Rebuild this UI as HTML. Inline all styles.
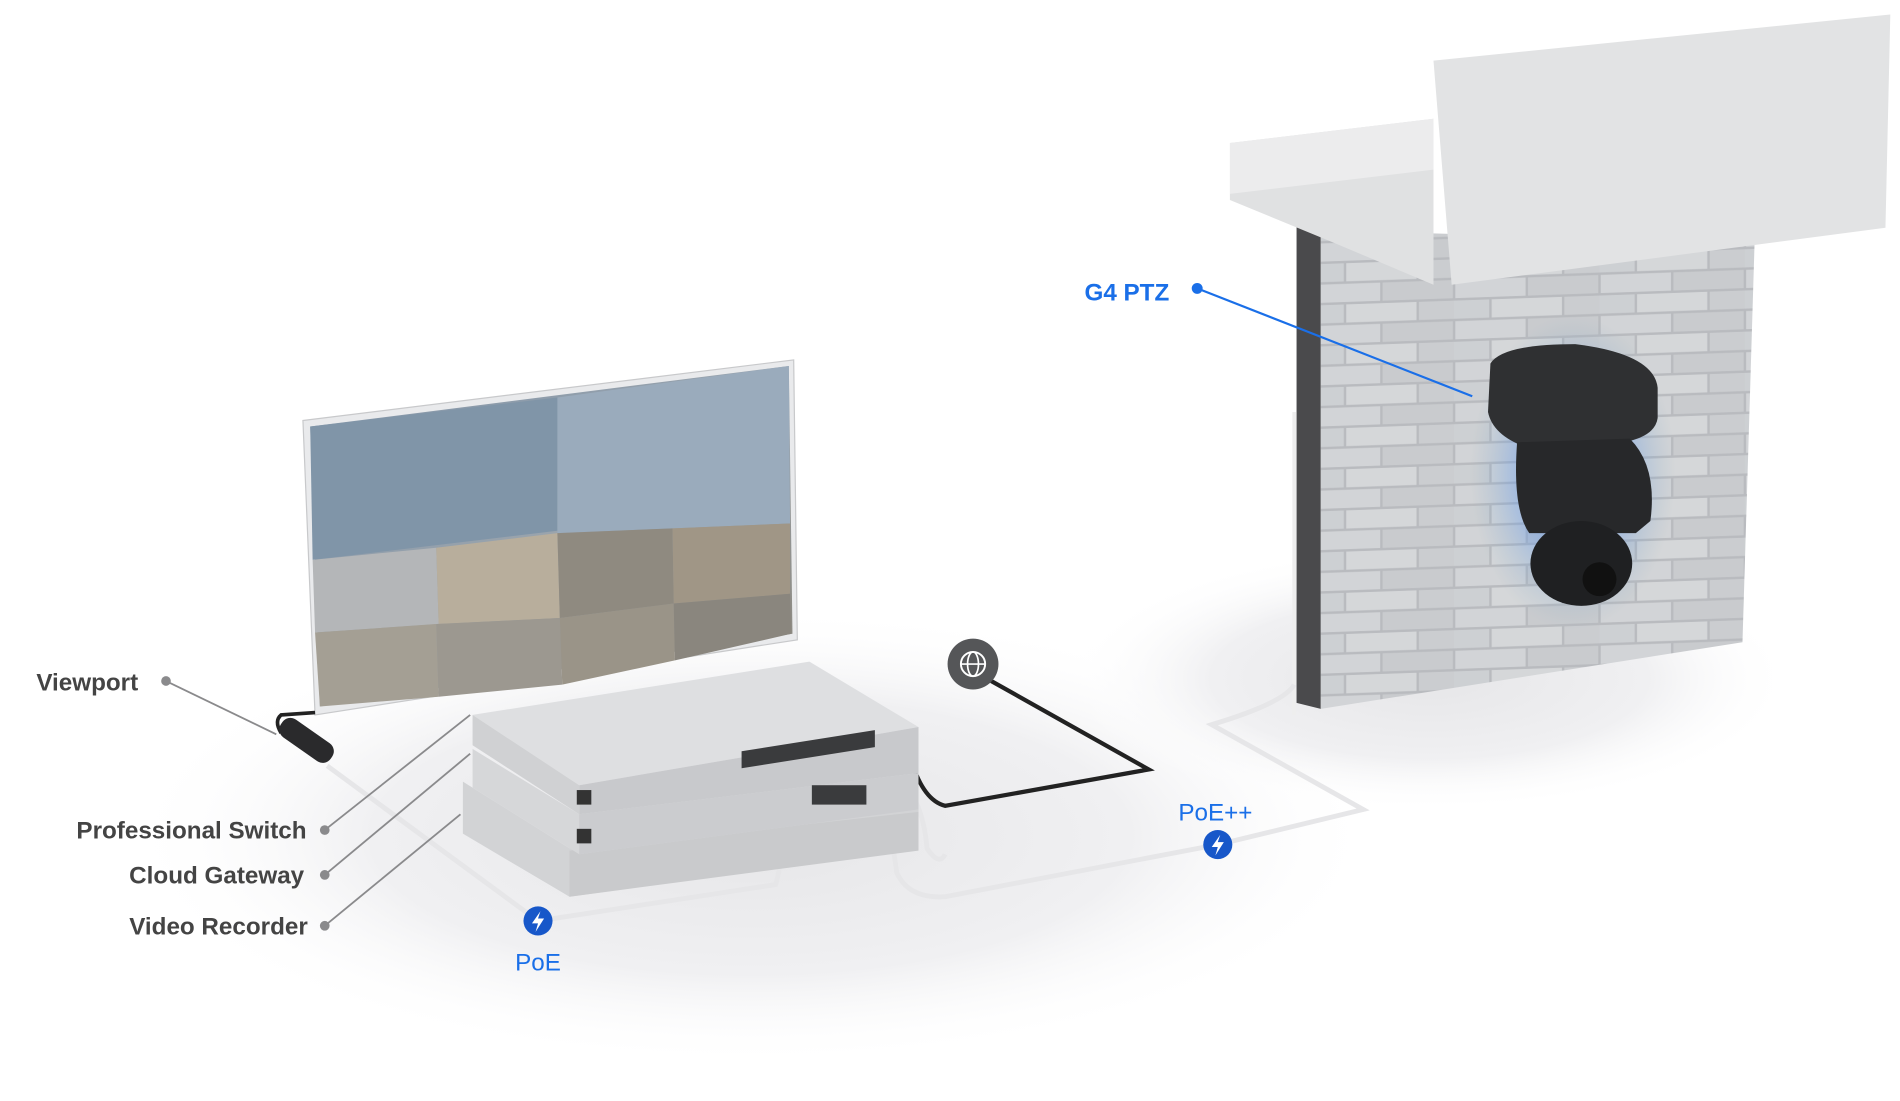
<!DOCTYPE html>
<html><head><meta charset="utf-8"><style>
html,body{margin:0;padding:0;background:#fff;}
svg{display:block;}
text{font-family:"Liberation Sans",sans-serif;}
</style></head><body>
<svg width="1900" height="1101" viewBox="0 0 1568 908.6" preserveAspectRatio="none" xmlns="http://www.w3.org/2000/svg">
<defs>
<radialGradient id="floor" cx="0.5" cy="0.5" r="0.5">
<stop offset="0" stop-color="#e6e6e8"/><stop offset="0.6" stop-color="#f0f0f2"/><stop offset="1" stop-color="#fff" stop-opacity="0"/>
</radialGradient>
<radialGradient id="glow" cx="0.5" cy="0.5" r="0.5">
<stop offset="0" stop-color="#3d7fe8" stop-opacity="0.8"/><stop offset="0.6" stop-color="#5f96e6" stop-opacity="0.35"/><stop offset="1" stop-color="#8ab" stop-opacity="0"/>
</radialGradient>
<linearGradient id="scr" x1="0" y1="0" x2="1" y2="1">
<stop offset="0" stop-color="#7f93a8"/><stop offset="0.5" stop-color="#9aa4ad"/><stop offset="1" stop-color="#8a8478"/>
</linearGradient>
<pattern id="brick" width="120" height="34" patternUnits="userSpaceOnUse" patternTransform="skewY(-2)">
<rect width="120" height="34" fill="#b9bbbf"/>
<rect x="1" y="1" width="58" height="15" fill="#d2d4d7"/><rect x="61" y="1" width="58" height="15" fill="#c9cbce"/>
<rect x="-29" y="18" width="58" height="15" fill="#cdd0d3"/><rect x="31" y="18" width="58" height="15" fill="#d5d7d9"/><rect x="91" y="18" width="58" height="15" fill="#cbcdd0"/>
</pattern>
</defs>
<rect width="1568" height="909" fill="#fff"/>
<ellipse cx="620" cy="690" rx="520" ry="190" fill="url(#floor)"/>
<ellipse cx="1180" cy="560" rx="300" ry="110" fill="url(#floor)"/>

<!-- wall -->
<polygon points="1070,185 1090,192 1090,585 1070,580" fill="#4a4a4c"/>
<polygon points="1090,190 1448,200 1438,530 1090,585" fill="url(#brick)"/>
<polygon points="1015,118 1183,98 1183,235 1100,200 1015,165" fill="#e0e1e2"/>
<polygon points="1015,118 1183,98 1183,140 1015,160" fill="#ececed"/>
<polygon points="1183,50 1560,12 1556,188 1198,235" fill="#e2e3e4"/>
<line x1="1068" y1="340" x2="1068" y2="590" stroke="#eee" stroke-width="3"/>
<ellipse cx="1298" cy="390" rx="85" ry="130" fill="url(#glow)"/>
<!-- camera -->
<path d="M1230,300 Q1240,284 1300,284 Q1365,292 1368,320 L1368,345 Q1366,360 1340,365 L1262,370 Q1232,360 1228,340 Z" fill="#2f3032"/>
<path d="M1252,365 L1345,362 Q1368,385 1362,430 L1350,440 L1262,440 Q1248,420 1252,365 Z" fill="#27282a"/>
<ellipse cx="1305" cy="465" rx="42" ry="35" fill="#1f2022"/>
<circle cx="1320" cy="478" r="14" fill="#111"/>

<!-- monitor -->
<polygon points="250,347 655,297 658,528 260,590" fill="#e9eaec" stroke="#c8c9cb"/>
<polygon points="256,352 651,302 654,523 264,583" fill="url(#scr)"/>
<polygon points="256,352 460,328 460,438 258,462" fill="#8095a8"/>
<polygon points="460,328 651,302 652,432 460,440" fill="#9aabbc"/>
<polygon points="258,462 360,452 362,515 260,522" fill="#b4b6b8"/>
<polygon points="360,452 460,440 462,510 362,515" fill="#b8ae9c"/>
<polygon points="260,522 360,515 362,575 264,583" fill="#a49f94"/>
<polygon points="360,515 462,510 464,565 362,575" fill="#9c9890"/>
<polygon points="460,440 555,436 556,498 462,510" fill="#8f8a80"/>
<polygon points="555,436 652,432 652,490 556,498" fill="#a09686"/>
<polygon points="462,510 556,498 557,545 464,565" fill="#9a9488"/>
<polygon points="556,498 652,490 653,523 557,545" fill="#8a867e"/>
<path d="M260,588 L232,590 Q226,595 232,605" stroke="#222" stroke-width="3" fill="none"/>
<rect x="228" y="602" width="50" height="18" rx="8" fill="#2a2a2c" transform="rotate(35 253 611)"/>

<!-- cables -->
<path d="M270,632 L444,760 L640,730 Q650,700 640,640 L620,632" stroke="#e6e6e8" stroke-width="4" fill="none"/>
<path d="M700,620 Q730,640 740,720 Q750,742 780,740 L1005,697 L1125,668 L1000,598 Q1060,580 1068,565" stroke="#e6e6e8" stroke-width="4" fill="none"/>
<path d="M715,625 Q760,640 765,700 Q775,715 780,705" stroke="#e6e6e8" stroke-width="4" fill="none"/>
<path d="M818,562 L948,635 L780,665 Q760,660 750,620" stroke="#222" stroke-width="3.5" fill="none"/>

<!-- devices -->
<polygon points="382,645 470,700 758,668 758,700 470,740 382,688" fill="#d2d3d5"/>
<polygon points="470,702 758,670 758,702 470,740" fill="#c9cacc"/>
<polygon points="390,618 478,672 758,638 758,668 478,705 390,650" fill="#d6d7d9"/>
<polygon points="478,672 758,638 758,668 478,705" fill="#cbcccf"/>
<polygon points="390,590 668,546 758,600 478,648" fill="#dedfe1"/>
<polygon points="390,590 478,648 478,672 390,615" fill="#d0d1d3"/>
<polygon points="478,648 758,600 758,638 478,672" fill="#c8c9cc"/>
<rect x="612" y="620" width="110" height="14" fill="#3a3b3d" transform="skewY(-9)" transform-origin="612 620"/>
<rect x="670" y="648" width="45" height="16" fill="#3a3b3d"/>
<rect x="476" y="652" width="12" height="12" fill="#333"/>
<rect x="476" y="684" width="12" height="12" fill="#333"/>

<!-- globe -->
<circle cx="803" cy="548" r="21" fill="#555658"/>
<circle cx="803" cy="548" r="10" fill="none" stroke="#fff" stroke-width="1.6"/>
<ellipse cx="803" cy="548" rx="4.5" ry="10" fill="none" stroke="#fff" stroke-width="1.4"/>
<line x1="793" y1="548" x2="813" y2="548" stroke="#fff" stroke-width="1.4"/>

<!-- label lines -->
<g stroke="#8a8a8c" stroke-width="1.5">
<line x1="137" y1="562" x2="228" y2="606"/>
<line x1="268" y1="685" x2="388" y2="590"/>
<line x1="268" y1="722" x2="388" y2="622"/>
<line x1="268" y1="764" x2="380" y2="672"/>
</g>
<g fill="#8a8a8c">
<circle cx="137" cy="562" r="4"/><circle cx="268" cy="685" r="4"/><circle cx="268" cy="722" r="4"/><circle cx="268" cy="764" r="4"/>
</g>
<g font-size="20" fill="#444" font-weight="bold">
<text x="30" y="570">Viewport</text>
<text x="253" y="692" text-anchor="end">Professional Switch</text>
<text x="251" y="729" text-anchor="end">Cloud Gateway</text>
<text x="254" y="771" text-anchor="end">Video Recorder</text>
</g>
<line x1="988" y1="238" x2="1215" y2="327" stroke="#1a6fe8" stroke-width="1.8"/>
<circle cx="988" cy="238" r="4.5" fill="#1a6fe8"/>
<text x="895" y="248" font-size="20" font-weight="bold" fill="#1a6fe8">G4 PTZ</text>

<circle cx="444" cy="760" r="12" fill="#1757c9"/>
<path d="M446,752 L439,762 L444,762 L442,769 L449,758 L444,758 Z" fill="#fff"/>
<text x="444" y="801" font-size="20" fill="#1a6fe8" text-anchor="middle">PoE</text>
<circle cx="1005" cy="697" r="12" fill="#1757c9"/>
<path d="M1007,689 L1000,699 L1005,699 L1003,706 L1010,695 L1005,695 Z" fill="#fff"/>
<text x="1003" y="677" font-size="20" fill="#1a6fe8" text-anchor="middle">PoE++</text>
</svg>
</body></html>
